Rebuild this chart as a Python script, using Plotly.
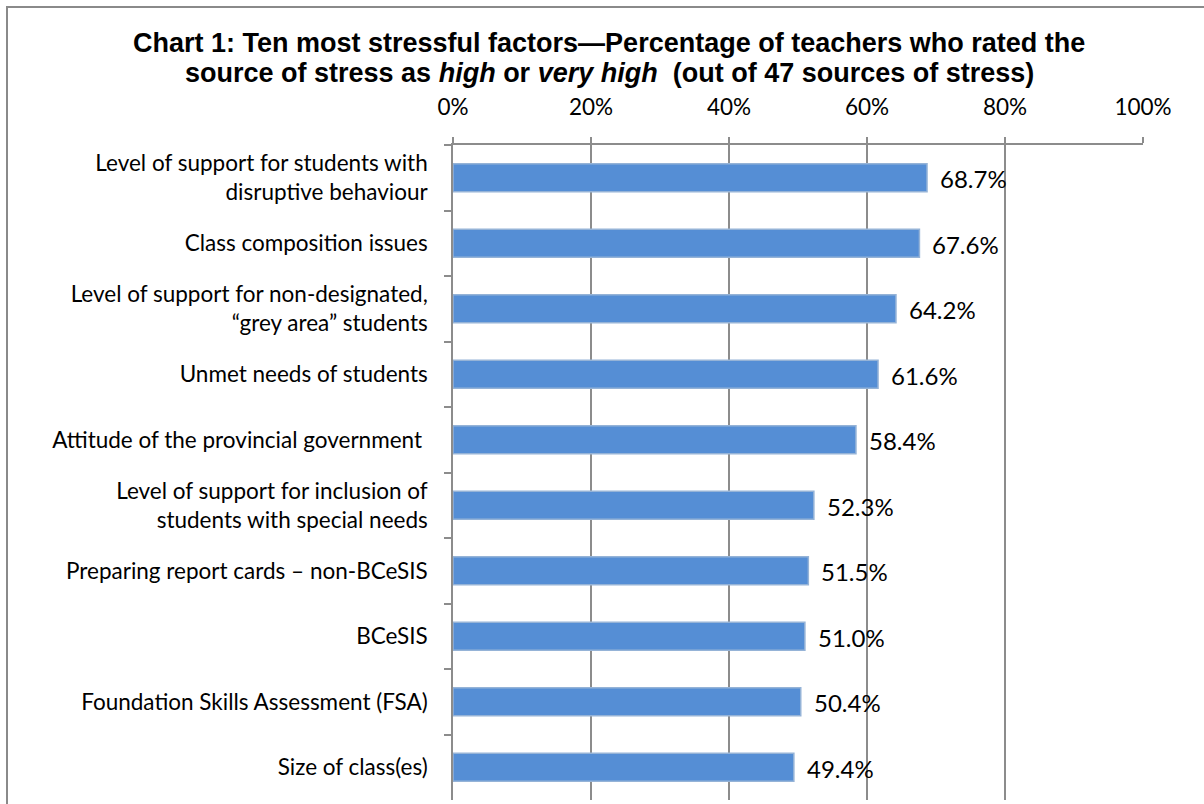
import plotly.graph_objects as go

# Survey results: share of teachers rating each source of stress as high / very high
categories = [
    "Level of support for students with<br>disruptive behaviour",
    "Class composition issues",
    "Level of support for non-designated,<br>“grey area” students",
    "Unmet needs of students",
    "Attitude of the provincial government ",
    "Level of support for inclusion of<br>students with special needs",
    "Preparing report cards – non-BCeSIS",
    "BCeSIS",
    "Foundation Skills Assessment (FSA)",
    "Size of class(es)",
]
values = [68.7, 67.6, 64.2, 61.6, 58.4, 52.3, 51.5, 51.0, 50.4, 49.4]
x_tick_values = [0, 20, 40, 60, 80, 100]
x_tick_labels = ["0%", "20%", "40%", "60%", "80%", "100%"]
title_lines = [
    "<b>Chart 1: Ten most stressful factors—Percentage of teachers who rated the</b>",
    "<b>source of stress as <i>high</i> or <i>very high</i>  (out of 47 sources of stress)</b>",
]

W, H = 1204, 804
M_L, M_R, M_T, M_B = 453, 61, 145, 4
plot_w = W - M_L - M_R
plot_h = H - M_T - M_B

AXIS_GREY = "#8c8c8c"
LABEL_FONT = "Lato"


def paper_y(px):
    """Convert a pixel row (from the top of the page) to paper y."""
    return (H - M_B - px) / plot_h


def paper_x(px):
    """Convert a pixel column (from the left of the page) to paper x."""
    return (px - M_L) / plot_w


fig = go.Figure(
    go.Bar(
        x=values,
        y=categories,
        orientation="h",
        width=0.43,
        marker=dict(color="#558ED5", line=dict(color="#95B3D7", width=1.5)),
        hoverinfo="skip",
    )
)

# Value labels just past the end of each bar
for cat, val in zip(categories, values):
    fig.add_annotation(
        x=val,
        y=cat,
        xref="x",
        yref="y",
        text=f"{val:.1f}%",
        showarrow=False,
        xanchor="left",
        yanchor="middle",
        xshift=11,
        yshift=-1,
        font=dict(family=LABEL_FONT, size=24, color="#000000"),
    )

fig.update_xaxes(
    side="top",
    range=[0, 100],
    tickvals=x_tick_values,
    ticktext=x_tick_labels,
    ticks="outside",
    ticklen=6,
    tickcolor=AXIS_GREY,
    tickwidth=1.5,
    ticklabelstandoff=13,
    showline=True,
    linecolor=AXIS_GREY,
    linewidth=1.5,
    showgrid=True,
    gridcolor=AXIS_GREY,
    gridwidth=1.5,
    zeroline=False,
    tickfont=dict(family=LABEL_FONT, size=22.5, color="#000000"),
    fixedrange=True,
)

fig.update_yaxes(
    type="category",
    autorange="reversed",
    tickson="boundaries",
    ticks="outside",
    ticklen=7,
    tickcolor=AXIS_GREY,
    tickwidth=1.5,
    ticklabelstandoff=19,
    showline=True,
    linecolor=AXIS_GREY,
    linewidth=1.5,
    showgrid=False,
    zeroline=False,
    tickfont=dict(family=LABEL_FONT, size=22.5, color="#000000"),
    fixedrange=True,
)

# Outer chart frame (left and top edges)
fig.add_shape(
    type="rect",
    xref="paper", yref="paper",
    x0=paper_x(7), x1=1.5, y0=-0.5, y1=paper_y(7),
    line=dict(color="#8a8a8a", width=2),
    fillcolor="rgba(0,0,0,0)",
    layer="below",
)

# Two-line chart title
for line_text, row in zip(title_lines, [43, 73]):
    fig.add_annotation(
        x=paper_x(609),
        y=paper_y(row),
        xref="paper",
        yref="paper",
        text=line_text,
        showarrow=False,
        xanchor="center",
        yanchor="middle",
        font=dict(family="Liberation Sans", size=27, color="#000000"),
    )

fig.update_layout(
    width=W,
    height=H,
    margin=dict(l=M_L, r=M_R, t=M_T, b=M_B),
    paper_bgcolor="#ffffff",
    plot_bgcolor="#ffffff",
    showlegend=False,
)

fig.write_html("out.html")
